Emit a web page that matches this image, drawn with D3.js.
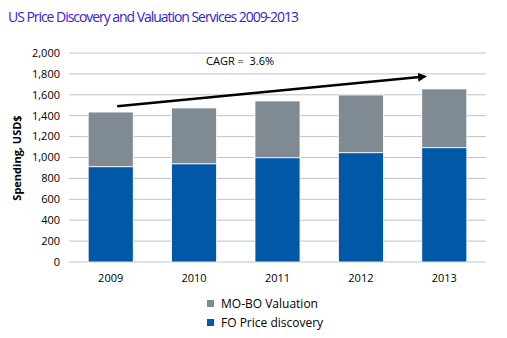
<!DOCTYPE html>
<html>
<head>
<meta charset="utf-8">
<script src="https://cdn.jsdelivr.net/npm/d3@7"></script>
<style>
  body { margin: 0; background: #fff; }
  svg text { font-family: "Open Sans", "DejaVu Sans", sans-serif; }
</style>
</head>
<body>
<div id="chart"></div>
<script>
// data
const years = ["2009", "2010", "2011", "2012", "2013"];
const foPrice = [912, 940, 998, 1046, 1094];
const moboValuation = [523, 534, 543, 552, 562];
const yTicks = [0, 200, 400, 600, 800, 1000, 1200, 1400, 1600, 1800, 2000];
const seriesNames = ["MO-BO Valuation", "FO Price discovery"];
const cagrLabel = "CAGR =  3.6%";
const arrowFrom = ["2009", 1490];
const arrowTo = ["2013", 1770];

const W = 507, H = 338;
const margin = {top: 53, right: 21, bottom: 76, left: 69};
const width = W - margin.left - margin.right;
const height = H - margin.top - margin.bottom;

const svg = d3.select("#chart").append("svg")
    .attr("width", W).attr("height", H);

svg.append("text")
    .attr("x", 8).attr("y", 22)
    .attr("fill", "#3a20d2")
    .style("font-size", "14px")
    .style("font-weight", 500)
    .attr("textLength", 291)
    .text("US Price Discovery and Valuation Services 2009-2013");

const g = svg.append("g").attr("transform", `translate(${margin.left},${margin.top})`);

const x = d3.scaleBand().domain(years).range([0, width]).paddingInner(0.46).paddingOuter(0.23);
const y = d3.scaleLinear().domain([0, 2000]).range([height, 0]);

// gridlines
g.selectAll(".grid").data(yTicks).join("line")
    .attr("x1", 0).attr("x2", width)
    .attr("y1", d => y(d)).attr("y2", d => y(d))
    .attr("stroke", "#bcc3ca").attr("stroke-width", 1);

// y labels
g.selectAll(".ylab").data(yTicks).join("text")
    .attr("x", -9).attr("y", d => y(d)).attr("dy", "0.35em")
    .attr("text-anchor", "end")
    .style("font-size", "11px").attr("fill", "#000")
    .text(d3.format(","));

// x labels
g.selectAll(".xlab").data(years).join("text")
    .attr("x", d => x(d) + x.bandwidth() / 2).attr("y", height + 20)
    .attr("text-anchor", "middle")
    .style("font-size", "11px").attr("fill", "#000")
    .text(d => d);

const rows = years.map((yr, i) => ({year: yr, fo: foPrice[i], mobo: moboValuation[i]}));
const stack = d3.stack().keys(["fo", "mobo"])(rows);
const colors = {fo: "#0058a6", mobo: "#7f8a93"};

g.selectAll(".layer").data(stack).join("g")
    .attr("fill", d => colors[d.key])
  .selectAll("rect").data(d => d).join("rect")
    .attr("x", d => x(d.data.year))
    .attr("width", x.bandwidth())
    .attr("y", d => y(d[1]))
    .attr("height", d => y(d[0]) - y(d[1]))
    .attr("stroke", "#fff").attr("stroke-width", 0.8);

// axis title
svg.append("text")
    .attr("transform", "translate(21,158) rotate(-90)")
    .attr("text-anchor", "middle")
    .style("font-size", "11px").style("font-weight", "bold")
    .text("Spending, USD$");

// CAGR arrow
svg.append("defs").append("marker")
    .attr("id", "arrow").attr("viewBox", "0 0 10 10")
    .attr("refX", 2).attr("refY", 5)
    .attr("markerWidth", 3.6).attr("markerHeight", 3.6)
    .attr("orient", "auto")
  .append("path").attr("d", "M0,0 L10,5 L0,10 Z").attr("fill", "#000");

g.append("line")
    .attr("x1", x(arrowFrom[0]) + 29).attr("y1", y(arrowFrom[1]))
    .attr("x2", x(arrowTo[0]) - 2).attr("y2", y(arrowTo[1]))
    .attr("stroke", "#000").attr("stroke-width", 2.5)
    .attr("marker-end", "url(#arrow)");

g.append("text")
    .attr("x", 137).attr("y", y(1890))
    .style("font-size", "11px")
    .style("white-space", "pre")
    .text(cagrLabel);

// legend
const legend = svg.append("g").attr("transform", "translate(207,300)");
const legendColors = [colors.mobo, colors.fo];
seriesNames.forEach((name, i) => {
  const row = legend.append("g").attr("transform", `translate(0,${i * 19})`);
  row.append("rect").attr("x", 0).attr("y", 0).attr("width", 7).attr("height", 7)
      .attr("fill", legendColors[i]);
  row.append("text").attr("x", 14).attr("y", 3.5).attr("dy", "0.35em")
      .style("font-size", "12px").text(name);
});
</script>
</body>
</html>
